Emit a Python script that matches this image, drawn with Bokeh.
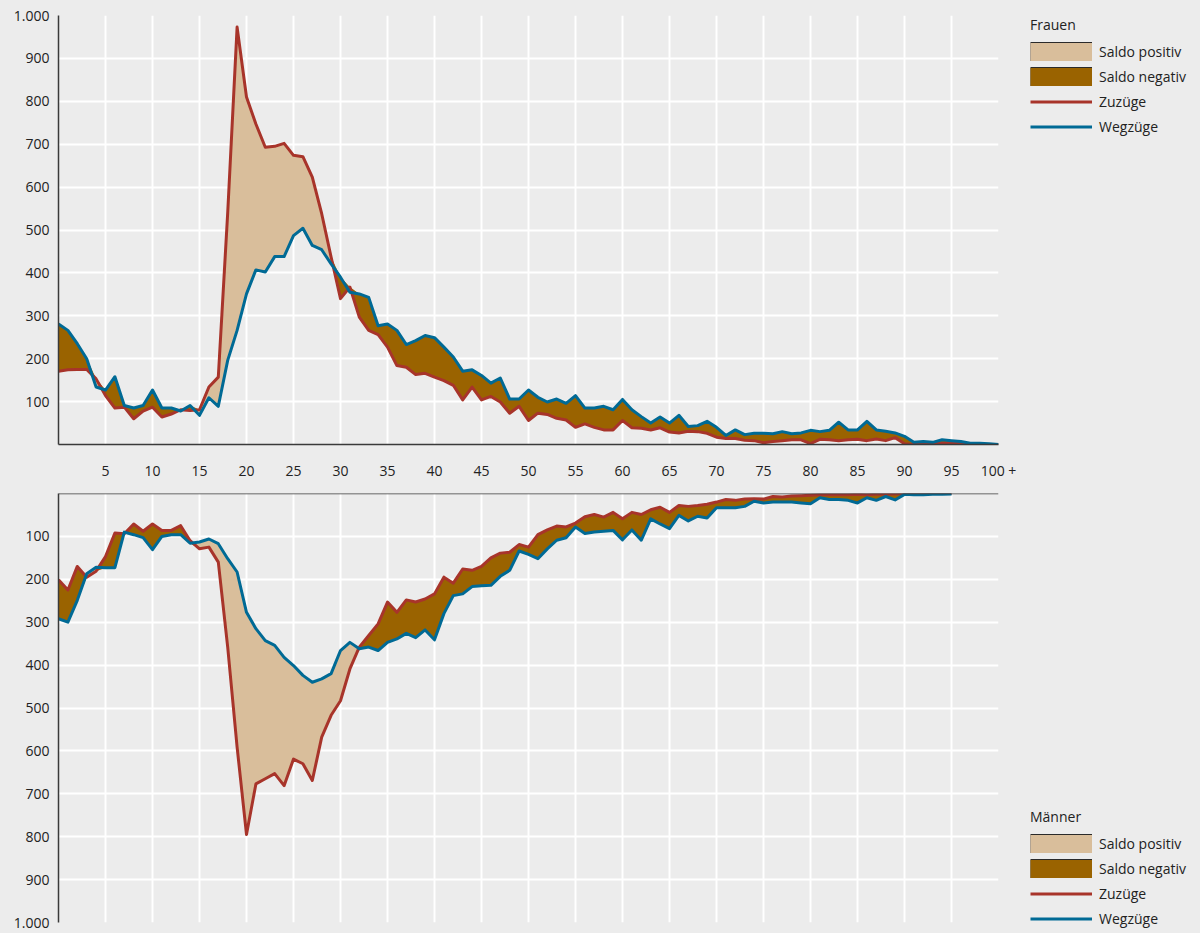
import numpy as np
from bokeh.plotting import figure
from bokeh.layouts import column
from bokeh.models import Range1d, FixedTicker, Legend, LegendItem, Span
from bokeh.embed import file_html
from bokeh.resources import INLINE

# ---------------- data (persons by age) ----------------
ages_label_ticks = [5, 10, 15, 20, 25, 30, 35, 40, 45, 50, 55, 60, 65, 70, 75, 80, 85, 90, 95, 100]
x_tick_labels = {100: "100 +"}
y_ticks = [100, 200, 300, 400, 500, 600, 700, 800, 900, 1000]
y_tick_labels = {1000: "1.000"}

frauen_zuzuege = [171, 174, 175, 175, 153, 114, 85, 87, 60, 78, 87, 64, 71, 81, 79, 81, 134, 157, 540, 973,
                  810, 747, 693, 695, 702, 674, 671, 623, 538, 437, 340, 367, 297, 266, 256, 227, 184, 180, 163, 166,
                  157, 149, 138, 104, 134, 104, 112, 99, 73, 89, 56, 73, 70, 61, 57, 40, 48, 40, 34, 34,
                  56, 39, 38, 34, 39, 29, 27, 31, 30, 26, 17, 14, 14, 10, 9, 4, 7, 9, 11, 11,
                  2, 12, 11, 9, 11, 12, 9, 13, 9, 16, 2, 0, 2, 2, 3, 3, 2, 1, 0, 0, 0]
frauen_wegzuege = [281, 266, 235, 200, 134, 127, 158, 91, 85, 91, 127, 85, 85, 78, 91, 68, 109, 89, 196, 266,
                   351, 407, 402, 438, 438, 487, 504, 464, 454, 421, 390, 355, 351, 343, 277, 281, 266, 233, 242, 254,
                   249, 227, 204, 171, 174, 161, 143, 155, 106, 106, 127, 110, 99, 106, 96, 114, 85, 85, 89, 81,
                   105, 81, 65, 50, 64, 50, 68, 42, 44, 54, 40, 21, 34, 23, 26, 26, 25, 30, 25, 27,
                   33, 30, 33, 52, 34, 34, 54, 34, 31, 27, 19, 5, 7, 5, 11, 9, 7, 3, 3, 2, 0]

maenner_zuzuege = [201, 225, 170, 195, 181, 147, 92, 94, 71, 88, 71, 86, 86, 75, 110, 129, 125, 160, 358, 591,
                   795, 677, 665, 653, 681, 619, 630, 669, 568, 517, 483, 409, 358, 331, 304, 253, 277, 248, 253, 246,
                   234, 195, 209, 176, 179, 170, 150, 139, 137, 119, 125, 96, 85, 76, 78, 69, 54, 49, 55, 44,
                   59, 44, 49, 38, 32, 44, 28, 30, 28, 25, 20, 14, 16, 13, 12, 13, 7, 8, 6, 5,
                   4, 3, 3, 3, 3, 2, 3, 2, 2, 1, 0, 0, 0, 0, 0, 0]
maenner_wegzuege = [292, 300, 249, 187, 172, 173, 173, 90, 96, 103, 131, 100, 96, 96, 116, 113, 106, 117, 152, 183,
                    277, 315, 343, 354, 382, 401, 424, 440, 432, 420, 366, 347, 362, 358, 366, 347, 339, 326, 336, 318,
                    341, 280, 238, 234, 217, 215, 214, 193, 179, 134, 142, 152, 129, 109, 103, 78, 93, 90, 88, 86,
                    108, 85, 109, 59, 71, 82, 51, 64, 53, 57, 33, 33, 33, 30, 18, 22, 20, 20, 20, 22,
                    24, 10, 14, 14, 16, 22, 10, 16, 7, 15, 2, 3, 3, 2, 2, 1]

# ---------------- styling ----------------
BG = "#ececec"
FONT = "Open Sans"
RED = "#a8342a"
BLUE = "#006a95"
LIGHT = "#d9be9b"
DARK = "#9a6300"
AXIS = "#3a3a3a"
EDGE = "#2a2a2a"
TEXT = "#222222"


def make_fig(zu, weg, title, inverted):
    x = list(range(len(zu)))
    zu_a = np.array(zu, dtype=float)
    weg_a = np.array(weg, dtype=float)
    top = np.maximum(zu_a, weg_a)

    p = figure(frame_width=940, frame_height=429,
               x_range=Range1d(0, 100),
               y_range=Range1d(1000, 0) if inverted else Range1d(0, 1000),
               output_backend="svg", toolbar_location=None,
               background_fill_color=BG, border_fill_color=BG,
               outline_line_color=None,
               x_axis_location=None if inverted else "below",
               min_border_left=58, min_border_right=196,
               min_border_top=8 if inverted else 15,
               min_border_bottom=11 if inverted else 41)

    # fills
    p.varea(x=x, y1=weg_a, y2=top, fill_color=LIGHT)
    p.varea(x=x, y1=zu_a, y2=top, fill_color=DARK)
    # lines
    p.line(x, zu, line_color=RED, line_width=3, line_join="round")
    p.line(x, weg, line_color=BLUE, line_width=3, line_join="round")

    # legend-only renderers, placed outside the visible ranges
    off_x = [-30, -20]
    off_y = [-20, -20]
    pos_edge = p.line(x=off_x, y=off_y, line_color=EDGE, line_width=20, line_cap="butt")
    pos_fill = p.line(x=off_x, y=off_y, line_color=LIGHT, line_width=18, line_cap="butt")
    neg_edge = p.line(x=off_x, y=off_y, line_color=EDGE, line_width=20, line_cap="butt")
    neg_fill = p.line(x=off_x, y=off_y, line_color=DARK, line_width=18, line_cap="butt")
    r_zu = p.line(x=off_x, y=off_y, line_color=RED, line_width=3)
    r_weg = p.line(x=off_x, y=off_y, line_color=BLUE, line_width=3)

    # axes
    axes = [p.yaxis[0]] + ([] if inverted else [p.xaxis[0]])
    for ax in axes:
        ax.axis_line_color = AXIS
        ax.axis_line_width = 1.5
        ax.major_tick_line_color = None
        ax.minor_tick_line_color = None
        ax.major_tick_in = 0
        ax.major_tick_out = 0
        ax.major_label_text_font = FONT
        ax.major_label_text_font_size = "14px"
        ax.major_label_text_color = TEXT

    if not inverted:
        p.xaxis.ticker = FixedTicker(ticks=ages_label_ticks)
        p.xaxis.major_label_overrides = x_tick_labels
        p.xaxis.major_label_standoff = 16
    else:
        p.add_layout(Span(location=0, dimension="width", line_color=AXIS, line_width=1.5))

    p.yaxis.ticker = FixedTicker(ticks=y_ticks)
    p.yaxis.major_label_overrides = y_tick_labels
    p.yaxis.major_label_standoff = 9

    p.xgrid.ticker = FixedTicker(ticks=ages_label_ticks)
    p.ygrid.ticker = FixedTicker(ticks=y_ticks)
    p.grid.grid_line_color = "white"
    p.grid.grid_line_width = 2

    legend = Legend(items=[LegendItem(label="Saldo positiv", renderers=[pos_edge, pos_fill]),
                           LegendItem(label="Saldo negativ", renderers=[neg_edge, neg_fill]),
                           LegendItem(label="Zuzüge", renderers=[r_zu]),
                           LegendItem(label="Wegzüge", renderers=[r_weg])],
                    title=title,
                    location=(32, -6) if inverted else (32, 308),
                    glyph_width=62, glyph_height=19, label_height=19,
                    label_standoff=7, spacing=6, padding=0, margin=0,
                    border_line_color=None, background_fill_alpha=0,
                    label_text_font=FONT, label_text_font_size="14px",
                    label_text_color=TEXT,
                    title_text_font=FONT, title_text_font_size="14px",
                    title_text_font_style="normal", title_text_color=TEXT,
                    title_standoff=8)
    p.add_layout(legend, "right")
    return p


p1 = make_fig(frauen_zuzuege, frauen_wegzuege, "Frauen", inverted=False)
p2 = make_fig(maenner_zuzuege, maenner_wegzuege, "Männer", inverted=True)
layout = column(p1, p2, spacing=0)

html = file_html(layout, INLINE)
html = html.replace("</head>", "<style>html,body{background:#ececec;overflow:hidden;}</style></head>", 1)
open("out.html", "w").write(html)
